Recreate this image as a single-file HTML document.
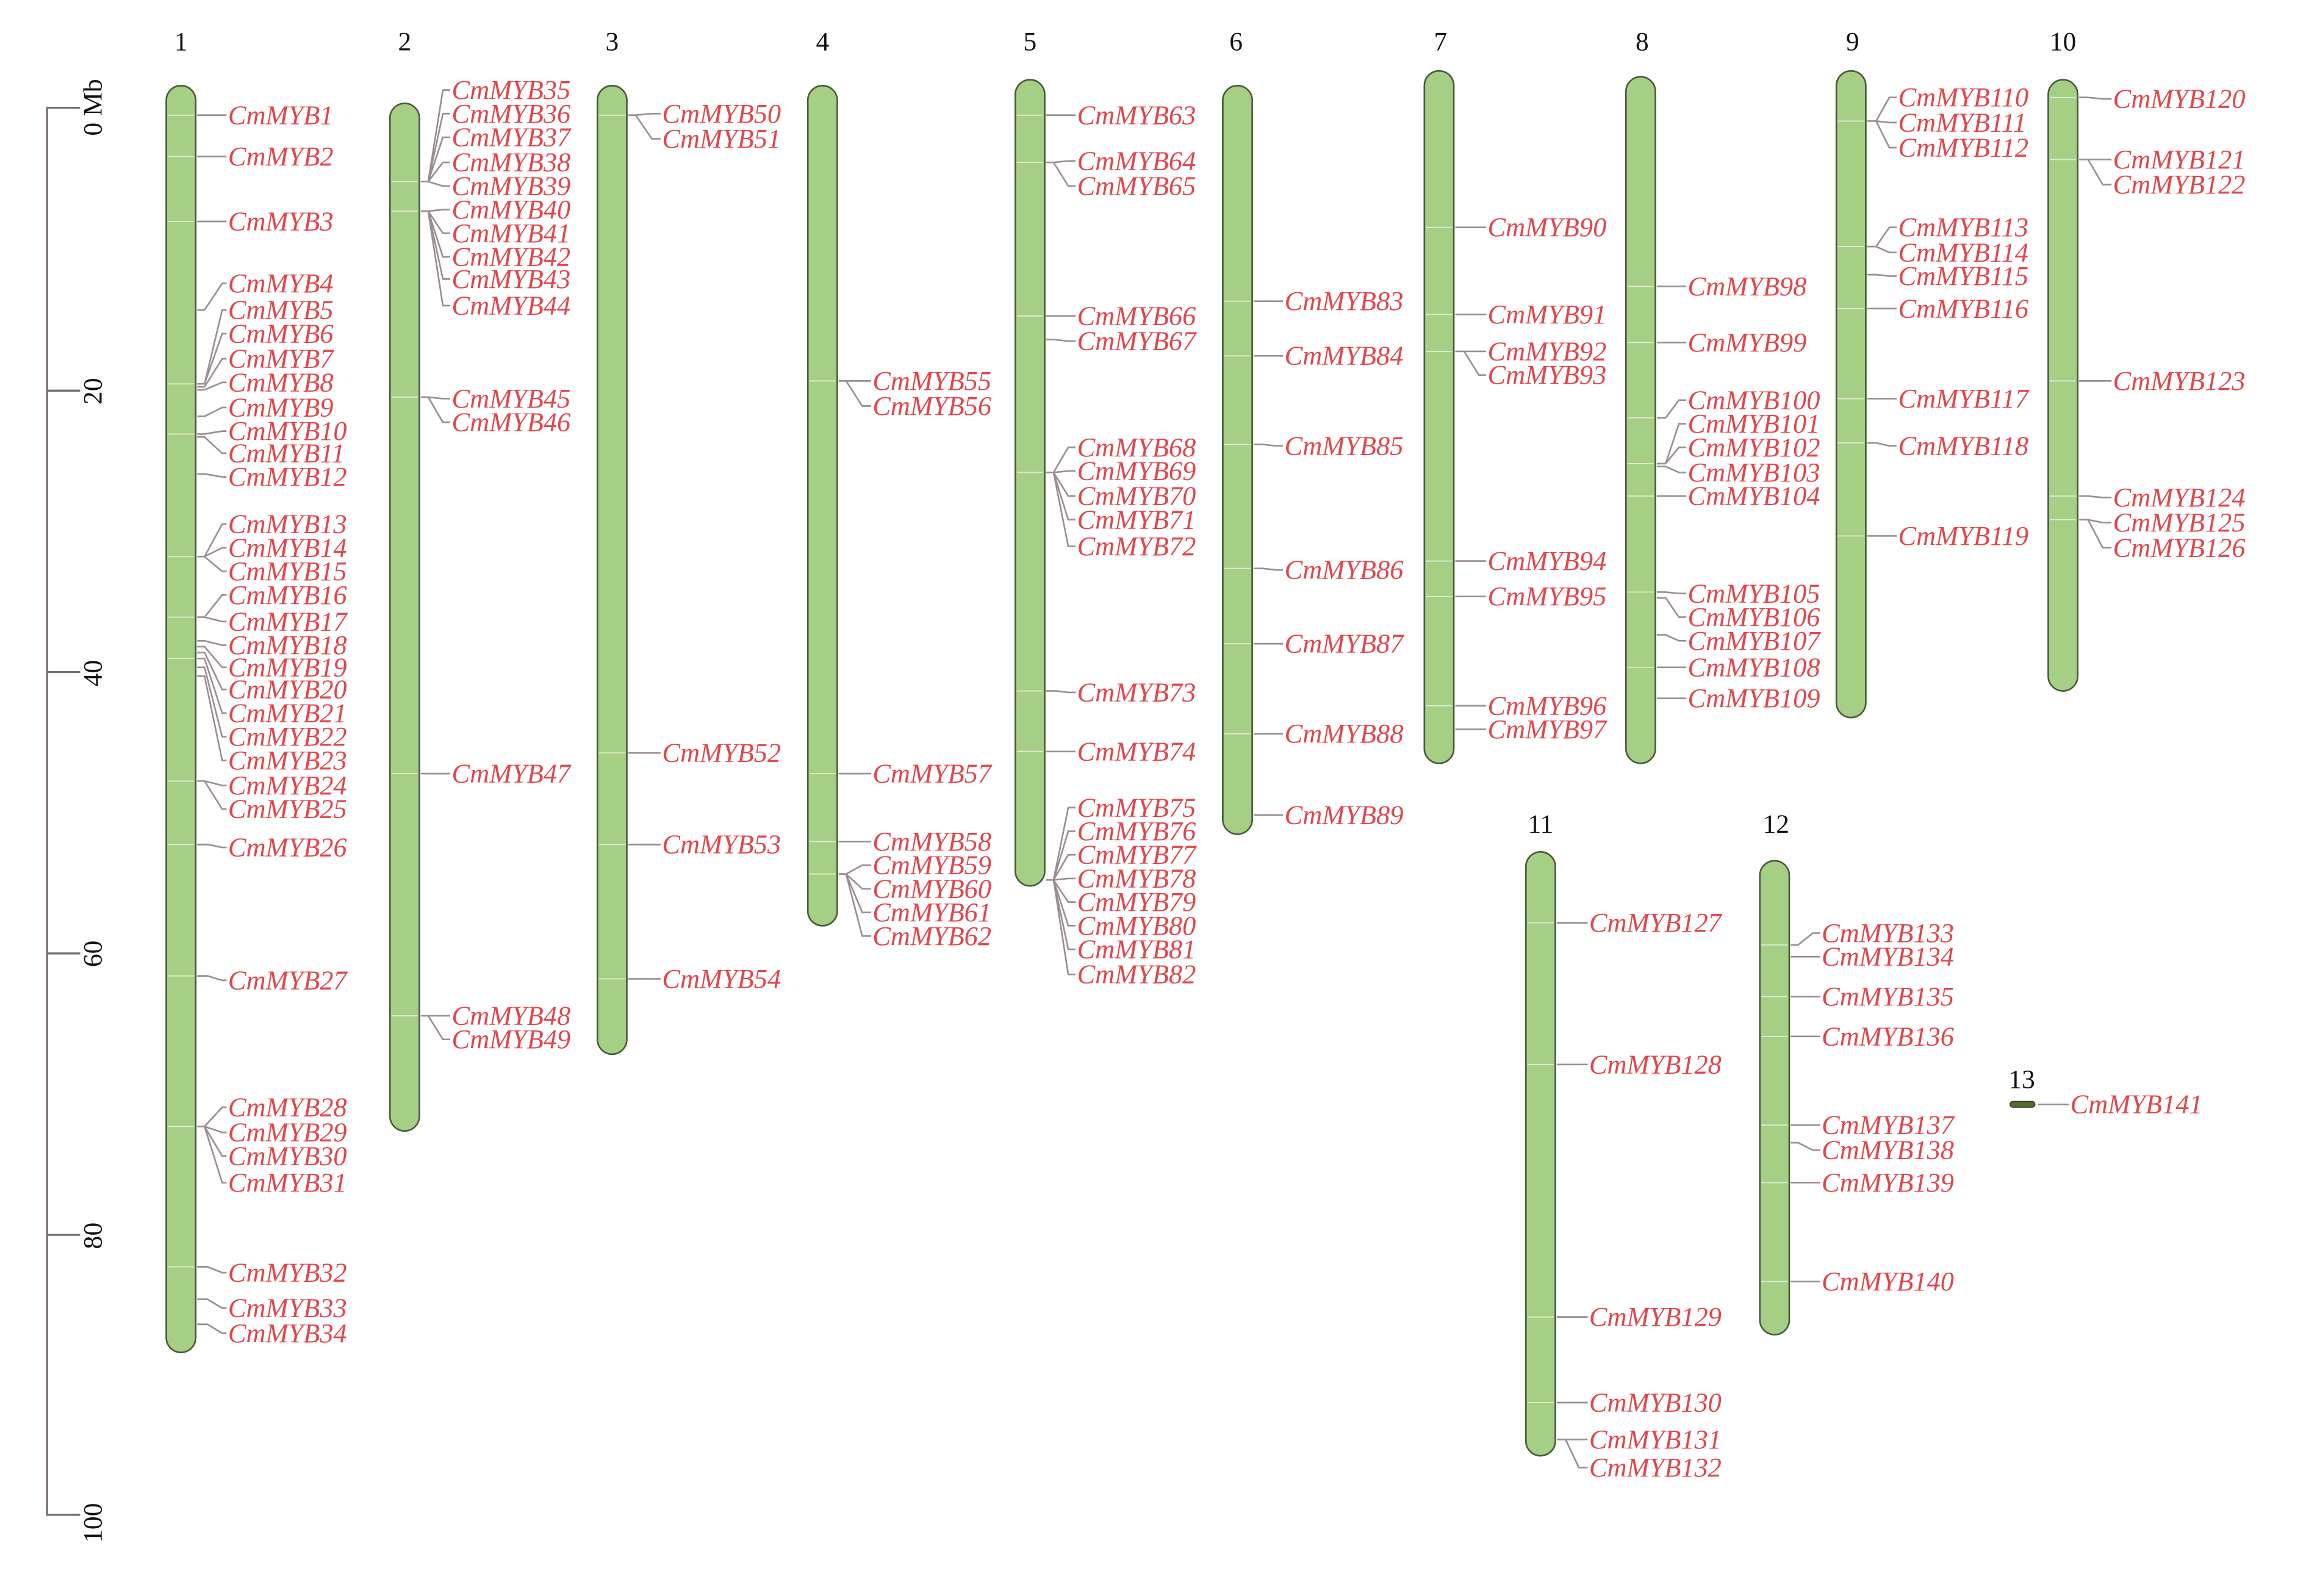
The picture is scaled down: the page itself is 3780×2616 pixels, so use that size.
<!DOCTYPE html>
<html><head><meta charset="utf-8"><style>
html,body{margin:0;padding:0;background:#fff;}
svg{display:block}
.g{font-family:"Liberation Serif",serif;font-style:italic;font-size:18.4px;fill:#e0474c;}
.n{font-family:"Liberation Serif",serif;font-size:18px;fill:#111;}
.c{fill:#a5cf84;stroke:#4a5a3a;stroke-width:1.1;}
.l{fill:none;stroke:#9b8e8e;stroke-width:1.1;}
.s{stroke:#e8f3dc;stroke-width:0.8;opacity:.8}
</style></head><body>
<svg width="3780" height="2616" viewBox="0 0 3780 2616" xmlns="http://www.w3.org/2000/svg">
<g transform="scale(2.412,2.42)">
<path d="M54.5 73 H32 V1026 H54.5 M32 264.6 H54.5 M32 455.2 H54.5 M32 645.8 H54.5 M32 836.4 H54.5" fill="none" stroke="#7a6e6e" stroke-width="1.4"/>
<text class="n" transform="translate(69,92) rotate(-90)">0 Mb</text>
<text class="n" transform="translate(69,274) rotate(-90)">20</text>
<text class="n" transform="translate(69,465) rotate(-90)">40</text>
<text class="n" transform="translate(69,655) rotate(-90)">60</text>
<text class="n" transform="translate(69,846) rotate(-90)">80</text>
<text class="n" transform="translate(69,1045) rotate(-90)">100</text>

<text class="n" x="123" y="34" text-anchor="middle">1</text>
<text class="n" x="275" y="34" text-anchor="middle">2</text>
<text class="n" x="416" y="34" text-anchor="middle">3</text>
<text class="n" x="559" y="34" text-anchor="middle">4</text>
<text class="n" x="700" y="34" text-anchor="middle">5</text>
<text class="n" x="840" y="34" text-anchor="middle">6</text>
<text class="n" x="979" y="34" text-anchor="middle">7</text>
<text class="n" x="1116" y="34" text-anchor="middle">8</text>
<text class="n" x="1259" y="34" text-anchor="middle">9</text>
<text class="n" x="1402" y="34" text-anchor="middle">10</text>
<text class="n" x="1047" y="564" text-anchor="middle">11</text>
<text class="n" x="1207" y="564" text-anchor="middle">12</text>
<text class="n" x="1374" y="737" text-anchor="middle">13</text>

<rect class="c" x="113" y="58" width="20" height="858" rx="10"/>
<rect class="c" x="265" y="70" width="20" height="696" rx="10"/>
<rect class="c" x="406" y="58" width="20" height="656" rx="10"/>
<rect class="c" x="549" y="58" width="20" height="569" rx="10"/>
<rect class="c" x="690" y="54" width="20" height="546" rx="10"/>
<rect class="c" x="831" y="58" width="20" height="507" rx="10"/>
<rect class="c" x="968" y="48" width="20" height="469" rx="10"/>
<rect class="c" x="1105" y="52" width="20" height="465" rx="10"/>
<rect class="c" x="1248" y="48" width="20" height="438" rx="10"/>
<rect class="c" x="1392" y="54" width="20" height="414" rx="10"/>
<rect class="c" x="1037" y="577" width="20" height="409" rx="10"/>
<rect class="c" x="1196" y="583" width="20" height="321" rx="10"/>
<rect x="1366" y="746" width="17" height="4" rx="2" fill="#556b2f" stroke="#2f3a1a" stroke-width="0.6"/>

<path class="s" d="M114 78H132M114 106H132M114 150H132M114 260H132M114 294H132M114 377H132M114 418H132M114 446H132M114 529H132M114 572H132M114 661H132M114 763H132M114 858H132
M266 123H284M266 143H284M266 269H284M266 524H284M266 688H284
M407 78H425M407 510H425M407 572H425M407 663H425
M550 258H568M550 524H568M550 570H568M550 592H568
M691 78H709M691 110H709M691 214H709M691 320H709M691 468H709M691 509H709
M832 204H850M832 241H850M832 301H850M832 385H850M832 436H850M832 497H850
M969 154H987M969 213H987M969 238H987M969 380H987M969 404H987M969 478H987
M1106 194H1124M1106 232H1124M1106 283H1124M1106 314H1124M1106 336H1124M1106 401H1124M1106 452H1124
M1249 82H1267M1249 167H1267M1249 209H1267M1249 270H1267M1249 300H1267M1249 363H1267
M1393 66H1411M1393 108H1411M1393 258H1411M1393 336H1411M1393 352H1411
M1038 625H1056M1038 721H1056M1038 892H1056M1038 950H1056
M1197 640H1215M1197 675H1215M1197 702H1215M1197 762H1215M1197 801H1215M1197 868H1215"/>

<path class="l" d="
M134 78H141L151 78H154 M134 106H141L151 106H154 M134 150H141L151 150H154
M134 210H139L151 192H154 M134 260H139L151 210H154 M134 260H139L151 226H154 M134 262H139L151 243H154
M134 264H139L151 259H154 M134 282H139L151 276H154 M134 294H139L151 292H154 M134 296H139L151 307H154 M134 321H139L151 323H154
M134 377H139L151 355H154 M134 377H139L151 371H154 M134 377H139L151 387H154
M134 418H139L151 403H154 M134 418H139L151 421H154
M134 434H139L151 437H154 M134 438H139L151 452H154 M134 442H139L151 467H154 M134 446H139L151 483H154 M134 452H139L151 499H154 M134 458H139L151 515H154
M134 529H139L151 532H154 M134 529H139L151 548H154 M134 572H141L151 574H154 M134 661H141L151 664H154
M134 763H139L151 750H154 M134 763H139L151 767H154 M134 763H139L151 783H154 M134 763H139L151 801H154
M134 858H141L151 862H154 M134 880H141L151 886H154 M134 897H141L151 903H154
M286 123H291L301 61H306 M286 123H291L301 77H306 M286 123H291L301 93H306 M286 123H291L301 110H306 M286 123H291L301 126H306
M286 143H291L301 142H306 M286 143H291L301 158H306 M286 143H291L301 174H306 M286 143H291L301 189H306 M286 143H291L301 207H306
M286 269H291L301 270H306 M286 269H291L301 286H306 M286 524H293L301 524H306 M286 688H291L301 688H306 M286 688H291L301 704H306
M427 78H432L443 77H449 M427 78H432L443 94H449 M427 510H434L443 510H449 M427 572H434L443 572H449 M427 663H434L443 663H449
M570 258H575L586 258H592 M570 258H575L586 275H592 M570 524H577L586 524H592 M570 570H577L586 570H592
M570 592H575L586 586H592 M570 592H575L586 602H592 M570 592H575L586 618H592 M570 592H575L586 634H592
M711 78H716L726 78H731 M711 110H716L726 109H731 M711 110H716L726 126H731 M711 214H716L726 214H731 M711 230H716L726 231H731
M711 320H716L726 303H731 M711 320H716L726 319H731 M711 320H716L726 336H731 M711 320H716L726 352H731 M711 320H716L726 370H731
M711 468H718L726 469H731 M711 509H718L726 509H731
M711 596H716L726 547H731 M711 596H716L726 563H731 M711 596H716L726 579H731 M711 596H716L726 595H731 M711 596H716L726 611H731 M711 596H716L726 627H731 M711 596H716L726 643H731 M711 596H716L726 660H731
M852 204H858L867 204H872 M852 241H858L867 241H872 M852 301H858L867 302H872 M852 385H858L867 386H872 M852 436H858L867 436H872 M852 497H858L867 497H872 M852 552H858L867 552H872
M989 154H995L1005 154H1010 M989 213H995L1005 213H1010 M989 238H995L1005 238H1010 M989 238H995L1005 254H1010 M989 380H995L1005 380H1010 M989 404H995L1005 404H1010 M989 478H995L1005 478H1010 M989 494H995L1005 494H1010
M1126 194H1132L1141 194H1146 M1126 232H1132L1141 232H1146 M1126 283H1132L1141 271H1146 M1126 314H1132L1141 287H1146 M1126 314H1132L1141 303H1146 M1126 316H1132L1141 320H1146 M1126 336H1132L1141 336H1146
M1126 401H1132L1141 402H1146 M1126 405H1132L1141 418H1146 M1126 430H1132L1141 434H1146 M1126 452H1132L1141 452H1146 M1126 473H1132L1141 473H1146
M1269 82H1275L1284 66H1289 M1269 82H1275L1284 83H1289 M1269 82H1275L1284 100H1289 M1269 167H1275L1284 154H1289 M1269 167H1275L1284 171H1289 M1269 186H1275L1284 187H1289
M1269 209H1275L1284 209H1289 M1269 270H1275L1284 270H1289 M1269 300H1275L1284 302H1289 M1269 363H1275L1284 363H1289
M1413 66H1419L1429 67H1435 M1413 108H1419L1429 108H1435 M1413 108H1419L1429 125H1435 M1413 258H1419L1429 258H1435 M1413 336H1419L1429 337H1435 M1413 352H1419L1429 354H1435 M1413 352H1419L1429 371H1435
M1058 625H1064L1073 625H1079 M1058 721H1064L1073 721H1079 M1058 892H1064L1073 892H1079 M1058 950H1064L1073 950H1079 M1058 975H1064L1073 975H1079 M1058 975H1064L1073 994H1079
M1217 640H1222L1232 632H1237 M1217 648H1222L1232 648H1237 M1217 675H1222L1232 675H1237 M1217 702H1222L1232 702H1237 M1217 762H1222L1232 762H1237 M1217 774H1222L1232 779H1237 M1217 801H1222L1232 801H1237 M1217 868H1222L1232 868H1237
M1385 748H1406"/>

<g class="g">
<text x="155" y="84">CmMYB1</text><text x="155" y="112">CmMYB2</text><text x="155" y="156">CmMYB3</text>
<text x="155" y="198">CmMYB4</text><text x="155" y="216">CmMYB5</text><text x="155" y="232">CmMYB6</text><text x="155" y="249">CmMYB7</text>
<text x="155" y="265">CmMYB8</text><text x="155" y="282">CmMYB9</text><text x="155" y="298">CmMYB10</text><text x="155" y="313">CmMYB11</text>
<text x="155" y="329">CmMYB12</text><text x="155" y="361">CmMYB13</text><text x="155" y="377">CmMYB14</text><text x="155" y="393">CmMYB15</text>
<text x="155" y="409">CmMYB16</text><text x="155" y="427">CmMYB17</text><text x="155" y="443">CmMYB18</text><text x="155" y="458">CmMYB19</text>
<text x="155" y="473">CmMYB20</text><text x="155" y="489">CmMYB21</text><text x="155" y="505">CmMYB22</text><text x="155" y="521">CmMYB23</text>
<text x="155" y="538">CmMYB24</text><text x="155" y="554">CmMYB25</text><text x="155" y="580">CmMYB26</text><text x="155" y="670">CmMYB27</text>
<text x="155" y="756">CmMYB28</text><text x="155" y="773">CmMYB29</text><text x="155" y="789">CmMYB30</text><text x="155" y="807">CmMYB31</text>
<text x="155" y="868">CmMYB32</text><text x="155" y="892">CmMYB33</text><text x="155" y="909">CmMYB34</text>

<text x="307" y="67">CmMYB35</text><text x="307" y="83">CmMYB36</text><text x="307" y="99">CmMYB37</text><text x="307" y="116">CmMYB38</text>
<text x="307" y="132">CmMYB39</text><text x="307" y="148">CmMYB40</text><text x="307" y="164">CmMYB41</text><text x="307" y="180">CmMYB42</text>
<text x="307" y="195">CmMYB43</text><text x="307" y="213">CmMYB44</text><text x="307" y="276">CmMYB45</text><text x="307" y="292">CmMYB46</text>
<text x="307" y="530">CmMYB47</text><text x="307" y="694">CmMYB48</text><text x="307" y="710">CmMYB49</text>

<text x="450" y="83">CmMYB50</text><text x="450" y="100">CmMYB51</text><text x="450" y="516">CmMYB52</text><text x="450" y="578">CmMYB53</text><text x="450" y="669">CmMYB54</text>

<text x="593" y="264">CmMYB55</text><text x="593" y="281">CmMYB56</text><text x="593" y="530">CmMYB57</text><text x="593" y="576">CmMYB58</text>
<text x="593" y="592">CmMYB59</text><text x="593" y="608">CmMYB60</text><text x="593" y="624">CmMYB61</text><text x="593" y="640">CmMYB62</text>

<text x="732" y="84">CmMYB63</text><text x="732" y="115">CmMYB64</text><text x="732" y="132">CmMYB65</text><text x="732" y="220">CmMYB66</text>
<text x="732" y="237">CmMYB67</text><text x="732" y="309">CmMYB68</text><text x="732" y="325">CmMYB69</text><text x="732" y="342">CmMYB70</text>
<text x="732" y="358">CmMYB71</text><text x="732" y="376">CmMYB72</text><text x="732" y="475">CmMYB73</text><text x="732" y="515">CmMYB74</text>
<text x="732" y="553">CmMYB75</text><text x="732" y="569">CmMYB76</text><text x="732" y="585">CmMYB77</text><text x="732" y="601">CmMYB78</text>
<text x="732" y="617">CmMYB79</text><text x="732" y="633">CmMYB80</text><text x="732" y="649">CmMYB81</text><text x="732" y="666">CmMYB82</text>

<text x="873" y="210">CmMYB83</text><text x="873" y="247">CmMYB84</text><text x="873" y="308">CmMYB85</text><text x="873" y="392">CmMYB86</text>
<text x="873" y="442">CmMYB87</text><text x="873" y="503">CmMYB88</text><text x="873" y="558">CmMYB89</text>

<text x="1011" y="160">CmMYB90</text><text x="1011" y="219">CmMYB91</text><text x="1011" y="244">CmMYB92</text><text x="1011" y="260">CmMYB93</text>
<text x="1011" y="386">CmMYB94</text><text x="1011" y="410">CmMYB95</text><text x="1011" y="484">CmMYB96</text><text x="1011" y="500">CmMYB97</text>

<text x="1147" y="200">CmMYB98</text><text x="1147" y="238">CmMYB99</text><text x="1147" y="277">CmMYB100</text><text x="1147" y="293">CmMYB101</text>
<text x="1147" y="309">CmMYB102</text><text x="1147" y="326">CmMYB103</text><text x="1147" y="342">CmMYB104</text><text x="1147" y="408">CmMYB105</text>
<text x="1147" y="424">CmMYB106</text><text x="1147" y="440">CmMYB107</text><text x="1147" y="458">CmMYB108</text><text x="1147" y="479">CmMYB109</text>

<text x="1290" y="72">CmMYB110</text><text x="1290" y="89">CmMYB111</text><text x="1290" y="106">CmMYB112</text><text x="1290" y="160">CmMYB113</text>
<text x="1290" y="177">CmMYB114</text><text x="1290" y="193">CmMYB115</text><text x="1290" y="215">CmMYB116</text><text x="1290" y="276">CmMYB117</text>
<text x="1290" y="308">CmMYB118</text><text x="1290" y="369">CmMYB119</text>

<text x="1436" y="73">CmMYB120</text><text x="1436" y="114">CmMYB121</text><text x="1436" y="131">CmMYB122</text><text x="1436" y="264">CmMYB123</text>
<text x="1436" y="343">CmMYB124</text><text x="1436" y="360">CmMYB125</text><text x="1436" y="377">CmMYB126</text>

<text x="1080" y="631">CmMYB127</text><text x="1080" y="727">CmMYB128</text><text x="1080" y="898">CmMYB129</text><text x="1080" y="956">CmMYB130</text>
<text x="1080" y="981">CmMYB131</text><text x="1080" y="1000">CmMYB132</text>

<text x="1238" y="638">CmMYB133</text><text x="1238" y="654">CmMYB134</text><text x="1238" y="681">CmMYB135</text><text x="1238" y="708">CmMYB136</text>
<text x="1238" y="768">CmMYB137</text><text x="1238" y="785">CmMYB138</text><text x="1238" y="807">CmMYB139</text><text x="1238" y="874">CmMYB140</text>

<text x="1407" y="754">CmMYB141</text>
</g>
</g>
</svg>
</body></html>
